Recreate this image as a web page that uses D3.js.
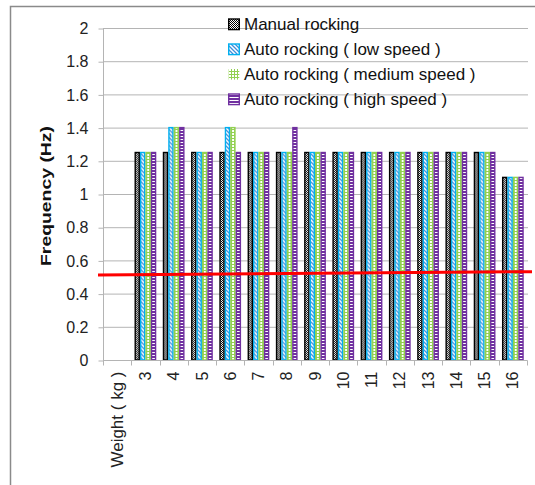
<!DOCTYPE html>
<html><head><meta charset="utf-8">
<script src="https://cdn.jsdelivr.net/npm/d3@7/dist/d3.min.js"></script>
<style>body{margin:0;background:#fff}svg{display:block}</style>
</head><body>
<svg id="chart" width="535" height="485"></svg>
<script>
const categories = ["Weight ( kg )","3","4","5","6","7","8","9","10","11","12","13","14","15","16"];
const seriesNames = ["Manual rocking","Auto rocking ( low speed )","Auto rocking ( medium speed )","Auto rocking ( high speed )"];
const manual = [null,1.25,1.25,1.25,1.25,1.25,1.25,1.25,1.25,1.25,1.25,1.25,1.25,1.25,1.1];
const lowSpeed = [null,1.25,1.4,1.25,1.4,1.25,1.25,1.25,1.25,1.25,1.25,1.25,1.25,1.25,1.1];
const mediumSpeed = [null,1.25,1.4,1.25,1.4,1.25,1.25,1.25,1.25,1.25,1.25,1.25,1.25,1.25,1.1];
const highSpeed = [null,1.25,1.4,1.25,1.25,1.25,1.4,1.25,1.25,1.25,1.25,1.25,1.25,1.25,1.1];
const yTicks = [0,0.2,0.4,0.6,0.8,1,1.2,1.4,1.6,1.8,2];
const thresholdLine = [0.512,0.532];
const yTitle = "Frequency (Hz)";

const seriesValues = [manual, lowSpeed, mediumSpeed, highSpeed];
const svg = d3.select("#chart");
const font = "'Liberation Sans', Arial, sans-serif";

// frame
svg.append("rect").attr("x",10.5).attr("y",6.5).attr("width",600).attr("height",600)
  .attr("fill","none").attr("stroke","#8a8a8a").attr("stroke-width",1.5);

// patterns
const defs = svg.append("defs");
let p = defs.append("pattern").attr("id","pManual").attr("patternUnits","userSpaceOnUse").attr("width",2).attr("height",2);
p.append("rect").attr("width",2).attr("height",2).attr("fill","#fff");
p.append("rect").attr("width",1).attr("height",1).attr("fill","#000");
p.append("rect").attr("x",1).attr("y",1).attr("width",1).attr("height",1).attr("fill","#000");
p = defs.append("pattern").attr("id","pLow").attr("patternUnits","userSpaceOnUse").attr("width",4).attr("height",4);
p.append("rect").attr("width",4).attr("height",4).attr("fill","#fff");
p.append("path").attr("d","M0,0L4,4M-1,3L1,5M3,-1L5,1").attr("stroke","#3f8fdc").attr("stroke-width",1.3);
p = defs.append("pattern").attr("id","pMed").attr("patternUnits","userSpaceOnUse").attr("width",3).attr("height",3);
p.append("rect").attr("width",3).attr("height",3).attr("fill","#fff");
p.append("path").attr("d","M0.5,0V3M0,0.5H3").attr("stroke","#92d050").attr("stroke-width",1);
p = defs.append("pattern").attr("id","pHigh").attr("patternUnits","userSpaceOnUse").attr("width",3).attr("height",3);
p.append("rect").attr("width",3).attr("height",3).attr("fill","#7030a0");
p.append("rect").attr("y",1).attr("width",3).attr("height",1).attr("fill","#fff");

const fills = ["url(#pManual)","url(#pLow)","url(#pMed)","url(#pHigh)"];
const strokes = ["#000","#00b0f0","#92d050","#7030a0"];

const x0 = d3.scaleBand().domain(categories).range([103,527]).padding(0);
const gap = x0.bandwidth()*0.115;
const x1 = d3.scaleBand().domain(d3.range(4)).range([gap, x0.bandwidth()-gap]).padding(0);
const y = d3.scaleLinear().domain([0,2]).range([360,28]);

// gridlines
svg.append("g").selectAll("line").data(yTicks.filter(d=>d>0)).join("line")
  .attr("x1",103).attr("x2",528).attr("y1",d=>y(d)+0.5).attr("y2",d=>y(d)+0.5)
  .attr("stroke","#b4b4b4").attr("stroke-width",1);

// y axis
const yAxis = svg.append("g").attr("transform","translate(103.5,0.5)")
  .call(d3.axisLeft(y).tickValues(yTicks).tickSize(5).tickPadding(10).tickFormat(d=>String(d)));
yAxis.select(".domain").attr("stroke","#b4b4b4").attr("d",`M0,${y(0)}V${y(2)}`);
yAxis.selectAll(".tick line").attr("stroke","#b4b4b4");
yAxis.selectAll(".tick text").attr("font-family",font).attr("font-size",16).attr("fill","#222").attr("x",-15);

// bars
const groups = svg.append("g").selectAll("g").data(categories).join("g")
  .attr("transform",d=>`translate(${x0(d)},0)`);
groups.selectAll("rect").data((d,i)=>seriesValues.map((s,k)=>({k, v:s[i]})).filter(o=>o.v!=null)).join("rect")
  .attr("x",o=>x1(o.k)+0.7).attr("width",x1.bandwidth()-1.4)
  .attr("y",o=>y(o.v)).attr("height",o=>y(0)-y(o.v))
  .attr("fill",o=>fills[o.k]).attr("stroke",o=>strokes[o.k]).attr("stroke-width",1.4);

// x axis
const xAxis = svg.append("g").attr("transform",`translate(0,${y(0)+0.5})`);
xAxis.append("line").attr("x1",103).attr("x2",527.5).attr("y1",0).attr("y2",0).attr("stroke","#b4b4b4");
const bounds = categories.map(c=>x0(c)).concat([x0(categories[categories.length-1])+x0.bandwidth()]);
xAxis.selectAll("line.t").data(bounds).join("line").attr("class","t")
  .attr("x1",d=>Math.round(d)+0.5).attr("x2",d=>Math.round(d)+0.5).attr("y1",0).attr("y2",5).attr("stroke","#b4b4b4");
xAxis.selectAll("text").data(categories).join("text")
  .attr("transform",d=>`translate(${x0(d)+x0.bandwidth()/2},11) rotate(-90)`)
  .attr("text-anchor","end").attr("dy","0.35em")
  .attr("font-family",font).attr("font-size",d=>d.length>3?17:16).attr("fill","#222").text(d=>d);

// threshold line
svg.append("line").attr("x1",98).attr("x2",532)
  .attr("y1",y(thresholdLine[0])).attr("y2",y(thresholdLine[1]))
  .attr("stroke","#ff0000").attr("stroke-width",3);

// y title
svg.append("text").attr("transform","translate(51,196) rotate(-90)")
  .attr("text-anchor","middle").attr("font-family",font).attr("font-weight","bold")
  .attr("font-size",15).attr("textLength",140).attr("lengthAdjust","spacingAndGlyphs")
  .attr("fill","#111").text(yTitle);

// legend
const leg = svg.append("g").selectAll("g").data(seriesNames).join("g")
  .attr("transform",(d,i)=>`translate(228,${24+i*25})`);
leg.append("rect").attr("x",0.7).attr("y",-5).attr("width",10.6).attr("height",10.6)
  .attr("fill",(d,i)=>fills[i]).attr("stroke",(d,i)=>i===2?"none":strokes[i]).attr("stroke-width",1.4);
leg.append("text").attr("x",16).attr("y",6).attr("font-family",font).attr("font-size",17)
  .attr("fill","#111").text(d=>d);
</script>
</body></html>
